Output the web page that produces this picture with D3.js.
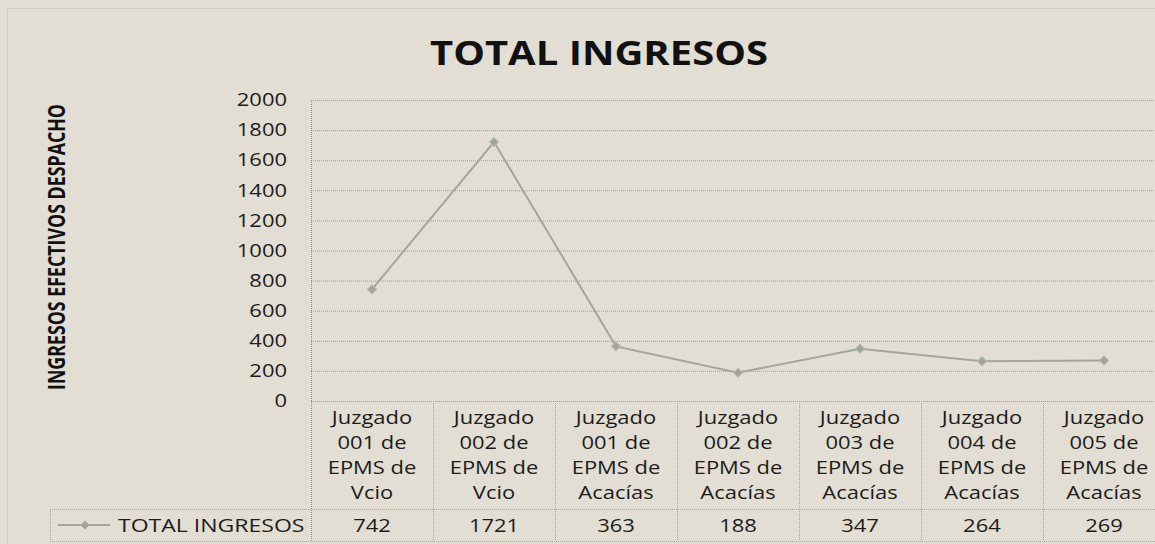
<!DOCTYPE html>
<html>
<head>
<meta charset="utf-8">
<script src="https://cdn.jsdelivr.net/npm/d3@7.9.0/dist/d3.min.js"></script>
<style>
    html, body { margin: 0; padding: 0; background: #e2ded4; }
    svg { display: block; }
    .wide { transform-box: fill-box; transform-origin: center; transform: scaleX(1.22); }
    .wide-end { transform-origin: right center; }
    .wide-start { transform-origin: left center; }
</style>
</head>
<body>
<script>
"use strict";

const TITLE = "TOTAL INGRESOS";
const Y_LABEL = "INGRESOS EFECTIVOS DESPACHO";
const SERIES_NAME = "TOTAL INGRESOS";

// category labels, one entry per line of the wrapped label
const CATEGORIES = [
    ["Juzgado", "001 de", "EPMS de", "Vcio"],
    ["Juzgado", "002 de", "EPMS de", "Vcio"],
    ["Juzgado", "001 de", "EPMS de", "Acacías"],
    ["Juzgado", "002 de", "EPMS de", "Acacías"],
    ["Juzgado", "003 de", "EPMS de", "Acacías"],
    ["Juzgado", "004 de", "EPMS de", "Acacías"],
    ["Juzgado", "005 de", "EPMS de", "Acacías"],
];
const VALUES = [742, 1721, 363, 188, 347, 264, 269];
const Y_TICKS = [0, 200, 400, 600, 800, 1000, 1200, 1400, 1600, 1800, 2000];

const WIDTH = 1155;
const HEIGHT = 544;
const FONT = "'Open Sans', 'DejaVu Sans', sans-serif";
const LINE_COLOR = "#a3a79b";
const GRID_COLOR = "#8e8c84";
const TABLE_COLOR = "#aaa69c";
const TEXT_COLOR = "#1c1c1a";

const plot = { left: 311, top: 100, bottom: 401, band: 122 };
const table = { mid: 509, bottom: 541, legendLeft: 50 };

const svg = d3.select("body").append("svg")
    .attr("width", WIDTH)
    .attr("height", HEIGHT);

// outer chart frame (faint)
svg.append("rect")
    .attr("x", 7.5).attr("y", 8.5)
    .attr("width", WIDTH + 20).attr("height", HEIGHT + 20)
    .attr("fill", "none")
    .attr("stroke", "#c2beb3")
    .attr("stroke-dasharray", "1 1");

// Scales
const x = d3.scaleBand()
    .domain(d3.range(CATEGORIES.length))
    .range([plot.left, plot.left + plot.band * CATEGORIES.length]);

const y = d3.scaleLinear()
    .domain([0, 2000])
    .range([plot.bottom, plot.top]);

// Gridlines
const grid = svg.append("g")
    .attr("transform", `translate(${plot.left}, 0)`)
    .call(d3.axisLeft(y).tickValues(Y_TICKS).tickSize(-(x.range()[1] - plot.left)).tickFormat(""));
grid.select(".domain").remove();
grid.selectAll("line")
    .attr("stroke", GRID_COLOR)
    .attr("stroke-dasharray", "1 1")
    .attr("stroke-opacity", 0.8);

// Y tick labels
const yAxis = svg.append("g")
    .attr("transform", `translate(${plot.left}, 0)`)
    .call(d3.axisLeft(y).tickValues(Y_TICKS).tickFormat(d3.format("d")).tickSize(0).tickPadding(24));
yAxis.select(".domain").remove();
yAxis.selectAll("text")
    .attr("class", "wide wide-end")
    .attr("font-family", FONT)
    .attr("font-size", 18)
    .attr("fill", TEXT_COLOR);

// Left border of plot + table column dividers
svg.append("line")
    .attr("x1", plot.left + 0.5).attr("x2", plot.left + 0.5)
    .attr("y1", plot.top).attr("y2", table.bottom)
    .attr("stroke", GRID_COLOR).attr("stroke-dasharray", "1 1");

svg.append("g")
    .selectAll("line")
    .data(d3.range(1, CATEGORIES.length + 1))
    .join("line")
    .attr("x1", (i) => x(i - 1) + x.bandwidth() + 0.5)
    .attr("x2", (i) => x(i - 1) + x.bandwidth() + 0.5)
    .attr("y1", plot.bottom)
    .attr("y2", table.bottom)
    .attr("stroke", TABLE_COLOR)
    .attr("stroke-dasharray", "1 1");

// table horizontal lines
[table.mid, table.bottom].forEach((yy) => {
    svg.append("line")
        .attr("x1", table.legendLeft).attr("x2", WIDTH)
        .attr("y1", yy + 0.5).attr("y2", yy + 0.5)
        .attr("stroke", TABLE_COLOR).attr("stroke-dasharray", "1 1");
});
svg.append("line")
    .attr("x1", table.legendLeft + 0.5).attr("x2", table.legendLeft + 0.5)
    .attr("y1", table.mid).attr("y2", table.bottom)
    .attr("stroke", TABLE_COLOR).attr("stroke-dasharray", "1 1");

// X axis: wrapped category labels
const xAxis = svg.append("g")
    .attr("transform", `translate(0, ${plot.bottom})`)
    .call(d3.axisBottom(x).tickSize(0).tickFormat(""));
xAxis.select(".domain").remove();
xAxis.selectAll(".tick text")
    .attr("class", "wide")
    .attr("font-family", FONT)
    .attr("font-size", 18)
    .attr("fill", TEXT_COLOR)
    .attr("y", 0)
    .attr("dy", null)
    .each(function (i) {
        const t = d3.select(this);
        CATEGORIES[i].forEach((line, k) => {
            t.append("tspan")
                .attr("x", 0)
                .attr("y", 23 + k * 25)
                .text(line);
        });
    });

// Values row
svg.append("g")
    .selectAll("text")
    .data(VALUES)
    .join("text")
    .attr("class", "wide")
    .attr("x", (d, i) => x(i) + x.bandwidth() / 2)
    .attr("y", 532)
    .attr("text-anchor", "middle")
    .attr("font-family", FONT)
    .attr("font-size", 18)
    .attr("fill", TEXT_COLOR)
    .text((d) => d);

// Line series
const line = d3.line()
    .x((d, i) => x(i) + x.bandwidth() / 2)
    .y((d) => y(d));

svg.append("path")
    .datum(VALUES)
    .attr("d", line)
    .attr("fill", "none")
    .attr("stroke", LINE_COLOR)
    .attr("stroke-width", 2);

// small diamond markers (rotated squares)
const marker = d3.symbol(d3.symbolSquare, 40);
svg.append("g")
    .selectAll("path")
    .data(VALUES)
    .join("path")
    .attr("d", marker)
    .attr("transform", (d, i) => `translate(${x(i) + x.bandwidth() / 2}, ${y(d)}) rotate(45)`)
    .attr("fill", "#a0a497")
    .attr("stroke", "#b6b9ad")
    .attr("stroke-width", 1);

// Legend key inside the table
const legend = svg.append("g").attr("transform", "translate(0, 525)");
legend.append("line")
    .attr("x1", 58).attr("x2", 110)
    .attr("stroke", LINE_COLOR).attr("stroke-width", 2);
legend.append("path")
    .attr("d", marker)
    .attr("transform", "translate(85, 0) rotate(45)")
    .attr("fill", "#a0a497");
legend.append("text")
    .attr("class", "wide wide-start")
    .attr("x", 118)
    .attr("y", 7)
    .attr("font-family", FONT)
    .attr("font-size", 18)
    .attr("fill", TEXT_COLOR)
    .style("transform", "scaleX(1.28)")
    .text(SERIES_NAME);

// Title
svg.append("text")
    .attr("x", 599)
    .attr("y", 65)
    .attr("text-anchor", "middle")
    .attr("font-family", FONT)
    .attr("font-weight", 700)
    .attr("font-size", 34)
    .attr("textLength", 338)
    .attr("lengthAdjust", "spacingAndGlyphs")
    .attr("fill", "#111")
    .text(TITLE);

// Y axis title
svg.append("text")
    .attr("transform", "translate(65, 247) rotate(-90)")
    .attr("text-anchor", "middle")
    .attr("font-family", FONT)
    .attr("font-weight", 700)
    .attr("font-size", 24)
    .attr("textLength", 286)
    .attr("lengthAdjust", "spacingAndGlyphs")
    .attr("fill", "#111")
    .text(Y_LABEL);
</script>
</body>
</html>
